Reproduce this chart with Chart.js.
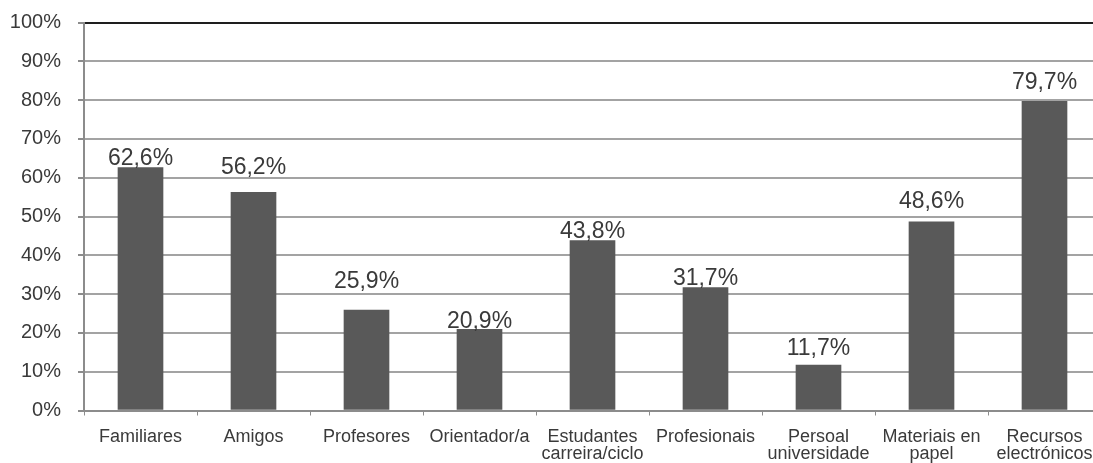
<!DOCTYPE html>
<html>
<head>
<meta charset="utf-8">
<script src="https://cdn.jsdelivr.net/npm/chart.js@4"></script>
<style>
  body { margin: 0; background: #ffffff; overflow: hidden; }
</style>
</head>
<body>
<canvas id="chart" width="1110" height="463"></canvas>
<script>
// categorias e valores (%)
var categories = [
    'Familiares',
    'Amigos',
    'Profesores',
    'Orientador/a',
    ['Estudantes', 'carreira/ciclo'],
    'Profesionais',
    ['Persoal', 'universidade'],
    ['Materiais en', 'papel'],
    ['Recursos', 'electrónicos']
];
var values = [62.6, 56.2, 25.9, 20.9, 43.8, 31.7, 11.7, 48.6, 79.7];
var y_ticks = [0, 10, 20, 30, 40, 50, 60, 70, 80, 90, 100];

var font_family = 'Arial, "Liberation Sans", sans-serif';
var bar_color = '#595959';
var text_color = '#3a3a3a';
var grid_color = '#a3a3a3';
var axis_color = '#8c8c8c';

function fmt(v) {
    return v.toFixed(1).replace('.', ',') + '%';
}

// etiquetas enriba das barras
var barLabels = {
    id: 'barLabels',
    afterDatasetsDraw: function (chart, args, opts) {
        var c = chart.ctx;
        var meta = chart.getDatasetMeta(0);
        c.save();
        c.font = opts.size + 'px ' + font_family;
        c.fillStyle = text_color;
        c.textAlign = 'center';
        c.textBaseline = 'alphabetic';
        meta.data.forEach(function (bar, i) {
            c.fillText(fmt(values[i]), bar.x, bar.y - opts.gaps[i]);
        });
        c.restore();
    }
};

var ctx = document.getElementById('chart');

var cfg = {
    type: 'bar',
    data: {
        labels: categories,
        datasets: [{
            data: values,
            backgroundColor: bar_color,
            barThickness: 45
        }]
    },
    options: {
        responsive: false,
        animation: false,
        layout: {
            padding: { top: 22.5, right: 9, left: 0, bottom: 0 }
        },
        scales: {
            x: {
                grid: {
                    display: true,
                    offset: true,
                    drawOnChartArea: false,
                    drawTicks: true,
                    tickLength: 5,
                    tickColor: axis_color
                },
                border: { display: true, color: axis_color, width: 2 },
                ticks: {
                    color: text_color,
                    padding: 13,
                    maxRotation: 0,
                    autoSkip: false,
                    font: { family: font_family, size: 18, lineHeight: 0.95 }
                },
                afterFit: function (scale) {
                    scale.height = 52.5;
                    scale.paddingLeft = 0;
                    scale.paddingRight = 0;
                }
            },
            y: {
                min: 0,
                max: 100,
                afterBuildTicks: function (scale) {
                    scale.ticks = y_ticks.map(function (v) { return { value: v }; });
                },
                grid: {
                    color: function (c) { return c.tick && c.tick.value === 100 ? '#1e1e1e' : grid_color; },
                    lineWidth: 2,
                    tickLength: 6,
                    tickColor: axis_color
                },
                border: { display: true, color: axis_color, width: 2 },
                ticks: {
                    color: text_color,
                    padding: 17,
                    font: { family: font_family, size: 20 },
                    callback: function (v) { return v + '%'; }
                },
                afterFit: function (scale) {
                    scale.width = 84;
                    scale.paddingTop = 0;
                    scale.paddingBottom = 0;
                }
            }
        },
        plugins: {
            legend: { display: false },
            tooltip: { enabled: false },
            barLabels: {
                size: 23,
                gaps: [3, 18, 22, 1, 3, 3, 10, 14, 12]
            }
        }
    },
    plugins: [barLabels]
};

const chart = new Chart(ctx, cfg);
</script>
</body>
</html>
